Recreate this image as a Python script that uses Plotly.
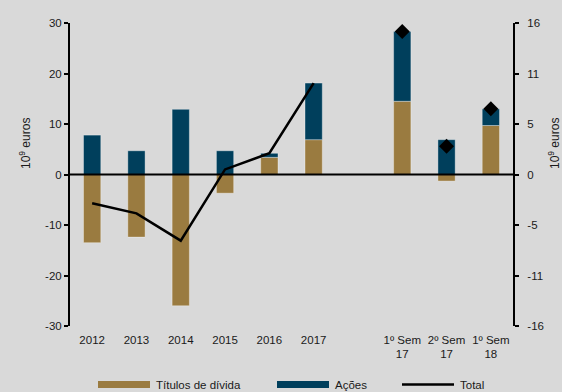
import plotly.graph_objects as go

# Categories (blank slot separates annual from half-year figures)
categories = ["2012", "2013", "2014", "2015", "2016", "2017", "",
              "1º Sem<br>17", "2º Sem<br>17", "1º Sem<br>18"]
titulos = [-13.5, -12.4, -26.0, -3.7, 3.4, 6.9, None, 14.5, -1.3, 9.7]
acoes = [7.8, 4.7, 12.9, 4.7, 0.8, 11.2, None, 13.8, 6.9, 3.3]
total_annual = [-5.7, -7.7, -13.1, 1.0, 4.2, 18.1]
total_semester = [28.3, 5.6, 13.0]

left_ticks = [-30, -20, -10, 0, 10, 20, 30]
right_ticks = [-16, -16 * 2 / 3, -16 / 3, 0, 16 / 3, 16 * 2 / 3, 16]
right_ticktext = ["-16", "-11", "-5", "0", "5", "11", "16"]

x_pos = list(range(len(categories)))
annual_x = x_pos[:6]
semester_x = x_pos[7:]

GOLD = "#9a7b40"
BLUE = "#003f5c"
BG = "#d9d9d9"
FONT = "Liberation Sans, Arial, sans-serif"
TXT = "#1a1a1a"
FS = 11.5

fig = go.Figure()
fig.add_trace(go.Bar(x=x_pos, y=titulos, name="Títulos de dívida", width=0.39,
                     marker=dict(color=GOLD, line=dict(color="rgba(255,255,255,0.35)", width=1)),
                     showlegend=False))
fig.add_trace(go.Bar(x=x_pos, y=acoes, name="Ações", width=0.39,
                     marker=dict(color=BLUE, line=dict(color="rgba(255,255,255,0.35)", width=1)),
                     showlegend=False))
fig.add_trace(go.Scatter(x=annual_x, y=total_annual, mode="lines", name="Total",
                         line=dict(color="black", width=2.5), showlegend=False))
fig.add_trace(go.Scatter(x=semester_x, y=total_semester, mode="markers", name="Total",
                         marker=dict(symbol="diamond", color="black", size=11.5),
                         showlegend=False))
# invisible trace to bring in the right-hand axis
fig.add_trace(go.Scatter(x=[0], y=[0], yaxis="y2", mode="markers",
                         marker=dict(opacity=0), showlegend=False, hoverinfo="skip"))

L, R, T, B = 70, 49, 23, 66
W, H = 562, 392
pw, ph = W - L - R, H - T - B


def px(xp):
    return (xp - L) / pw


def py(yp):
    return (H - B - yp) / ph


fig.update_layout(
    width=W, height=H,
    margin=dict(l=L, r=R, t=T, b=B),
    paper_bgcolor=BG, plot_bgcolor=BG,
    barmode="relative",
    font=dict(family=FONT, size=FS, color=TXT),
    xaxis=dict(range=[-0.5, 9.5], tickmode="array", tickvals=x_pos, ticktext=categories,
               tickangle=0, ticklabelstandoff=5,
               showgrid=False, zeroline=False, showline=False, ticks=""),
    yaxis=dict(range=[-30, 30], tickmode="array", tickvals=left_ticks,
               ticktext=[str(v) for v in left_ticks],
               showgrid=False, zeroline=False,
               showline=True, linecolor="black", linewidth=2,
               ticks="outside", ticklen=4, tickwidth=2, tickcolor="black"),
    yaxis2=dict(range=[-16, 16], tickmode="array", tickvals=right_ticks,
                ticktext=right_ticktext, ticklabelstandoff=6,
                overlaying="y", side="right", showgrid=False, zeroline=False,
                showline=True, linecolor="black", linewidth=2,
                ticks="outside", ticklen=4, tickwidth=2, tickcolor="black"),
)

# zero line drawn over the bars
fig.add_shape(type="line", xref="paper", yref="y", x0=0, x1=1, y0=0, y1=0,
              line=dict(color="black", width=2), layer="above")

# axis titles
for xp in (25, 554):
    fig.add_annotation(text="10<sup>9</sup> euros", xref="paper", yref="paper",
                       x=px(xp), y=py(144), textangle=-90, showarrow=False,
                       xanchor="center", yanchor="middle",
                       font=dict(family=FONT, size=12, color=TXT))

# legend
legend_items = [
    ("Títulos de dívida", GOLD, 98, 150, 7),
    ("Ações", BLUE, 277, 329, 7),
    ("Total", "black", 402, 454, 2.5),
]
ly = 384.5
for label, color, x0, x1, thick in legend_items:
    fig.add_shape(type="rect", xref="paper", yref="paper",
                  x0=px(x0), x1=px(x1), y0=py(ly - thick / 2), y1=py(ly + thick / 2),
                  fillcolor=color, line=dict(width=0))
    fig.add_annotation(text=label, xref="paper", yref="paper", x=px(x1 + 4), y=py(ly),
                       xanchor="left", yanchor="middle", showarrow=False,
                       font=dict(family=FONT, size=FS, color=TXT))

fig.write_html("out.html")
